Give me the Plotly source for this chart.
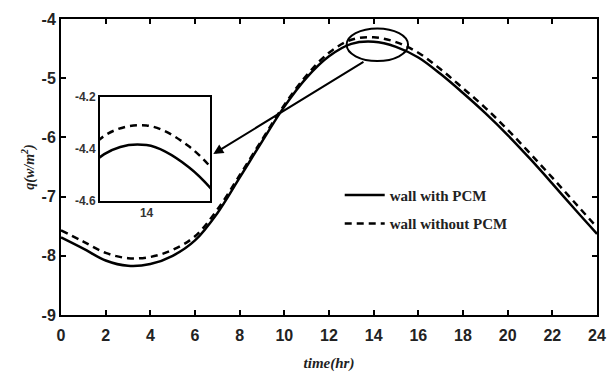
import plotly.graph_objects as go

# Hourly heat flux through the wall, W/m^2
hours = list(range(0, 25))
q_with_pcm = [-7.69, -7.88, -8.08, -8.17, -8.14, -8.00, -7.74, -7.28, -6.68, -6.07,
              -5.48, -4.99, -4.63, -4.42, -4.385, -4.47, -4.65, -4.93, -5.25, -5.59,
              -5.96, -6.36, -6.78, -7.21, -7.63]
q_without_pcm = [-7.57, -7.76, -7.95, -8.04, -8.02, -7.90, -7.67, -7.22, -6.64, -6.04,
                 -5.45, -4.95, -4.57, -4.35, -4.31, -4.39, -4.57, -4.85, -5.17, -5.50,
                 -5.87, -6.27, -6.68, -7.10, -7.52]

x_ticks = list(range(0, 25, 2))
y_ticks = [-9, -8, -7, -6, -5, -4]
inset_x_ticks = [14]
inset_y_ticks = [-4.6, -4.4, -4.2]


def bold(vals, fmt="{:g}"):
    return ["<b>" + fmt.format(v) + "</b>" for v in vals]


DASH = "7px,5px"
tick_font = dict(family="Liberation Sans", size=16, color="#222")
inset_font = dict(family="Liberation Sans", size=12, color="#333")
serif = "Liberation Serif"

fig = go.Figure()

# main curves
fig.add_trace(go.Scatter(x=hours, y=q_with_pcm, mode="lines", name="<b>wall with PCM</b>",
                         legendgroup="a",
                         line=dict(color="black", width=2.5, shape="spline"),
                         xaxis="x", yaxis="y"))
fig.add_trace(go.Scatter(x=hours, y=q_without_pcm, mode="lines",
                         name="<b>wall without PCM</b>", legendgroup="b",
                         line=dict(color="black", width=2.5, dash=DASH, shape="spline"),
                         xaxis="x", yaxis="y"))

# zoomed view around the peak
fig.add_trace(go.Scatter(x=hours, y=q_with_pcm, mode="lines", showlegend=False,
                         line=dict(color="black", width=2.5, shape="spline"),
                         xaxis="x2", yaxis="y2", cliponaxis=True))
fig.add_trace(go.Scatter(x=hours, y=q_without_pcm, mode="lines", showlegend=False,
                         line=dict(color="black", width=2.5, dash=DASH, shape="spline"),
                         xaxis="x2", yaxis="y2", cliponaxis=True))

axis_common = dict(showline=True, linecolor="black", linewidth=2, mirror="ticks",
                   ticks="inside", ticklen=5, tickwidth=1.5, tickcolor="black",
                   showgrid=False, zeroline=False, automargin=False)

fig.update_layout(
    width=616, height=374,
    margin=dict(l=61, r=19, t=12, b=59),
    paper_bgcolor="white", plot_bgcolor="white",
    xaxis=dict(range=[0, 24], tickvals=x_ticks, ticktext=bold(x_ticks), tickfont=tick_font,
               ticklabelstandoff=5,
               title=dict(text="<b><i>time(hr)</i></b>",
                          font=dict(family=serif, size=15, color="#222"), standoff=14),
               **axis_common),
    yaxis=dict(range=[-9, -4], tickvals=y_ticks, ticktext=bold(y_ticks), tickfont=tick_font,
               title=dict(text="<b><i>q(w/m<sup>2</sup>)</i></b>",
                          font=dict(family=serif, size=14, color="#222"), standoff=4),
               **axis_common),
    xaxis2=dict(domain=[0.0728, 0.278], anchor="y2", range=[12.9, 15.5],
                tickvals=inset_x_ticks, ticktext=bold(inset_x_ticks), ticks="",
                showline=True, linecolor="black", linewidth=2, mirror=True,
                showgrid=False, zeroline=False, tickfont=inset_font),
    yaxis2=dict(domain=[0.385, 0.737], anchor="x2", range=[-4.6, -4.2],
                tickvals=inset_y_ticks, ticktext=bold(inset_y_ticks, "{:.1f}"), ticks="",
                showline=True, linecolor="black", linewidth=2, mirror=True,
                showgrid=False, zeroline=False, tickfont=inset_font),
    legend=dict(x=0.52, y=0.46, xanchor="left", yanchor="top",
                bgcolor="rgba(0,0,0,0)", borderwidth=0,
                font=dict(family=serif, size=15, color="#222"),
                itemwidth=40, tracegroupgap=6),
    showlegend=True,
)

# ellipse marking the zoomed region
fig.add_shape(type="circle", xref="x", yref="y", x0=12.79, x1=15.54, y0=-4.71, y1=-4.16,
              line=dict(color="black", width=2))

# arrow pointing from the ellipse to the zoomed view
fig.add_annotation(x=6.82, y=-6.28, ax=13.61, ay=-4.71, xref="x", yref="y",
                   axref="x", ayref="y", text="", showarrow=True,
                   arrowhead=2, arrowsize=1, arrowwidth=2, arrowcolor="black")

fig.write_html("out.html")
